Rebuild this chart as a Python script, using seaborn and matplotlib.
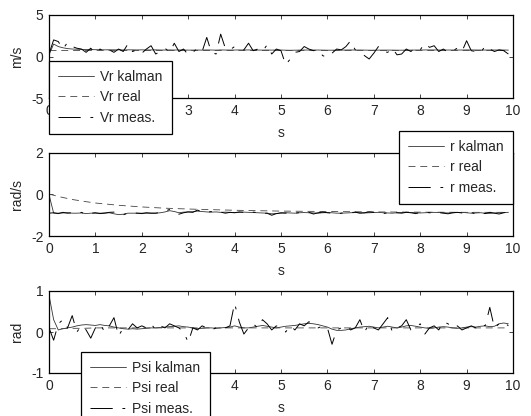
import numpy as np
import matplotlib
matplotlib.use("Agg")
import matplotlib.pyplot as plt
import seaborn as sns

# sample times (0.1 s step) and coarse times for the smooth "real" curves
t = np.arange(100) * 0.1
t_real = [0.0, 0.25, 0.5, 0.75, 1.0, 1.5, 2.0, 2.5, 3.0, 3.5, 4.0, 5.0, 6.0, 7.0, 8.0, 9.0, 9.9]

# --- Vr (m/s) ---
vr_kalman = [0.2, 1.5, 1.2, 1.05, 0.95, 0.9, 0.88, 0.85, 0.84, 0.83,
             0.82, 0.82, 0.8, 0.81, 0.8, 0.8, 0.79, 0.8, 0.8, 0.79,
             0.8, 0.79, 0.79, 0.8, 0.78, 0.78, 0.79, 0.78, 0.79, 0.78,
             0.77, 0.77, 0.78, 0.77, 0.79, 0.78, 0.77, 0.79, 0.78, 0.78,
             0.78, 0.79, 0.78, 0.79, 0.78, 0.78, 0.77, 0.78, 0.77, 0.78,
             0.78, 0.76, 0.75, 0.76, 0.77, 0.78, 0.78, 0.78, 0.78, 0.77,
             0.76, 0.76, 0.77, 0.77, 0.78, 0.79, 0.78, 0.78, 0.77, 0.76,
             0.76, 0.77, 0.77, 0.77, 0.77, 0.76, 0.76, 0.77, 0.77, 0.78,
             0.78, 0.79, 0.79, 0.79, 0.78, 0.78, 0.78, 0.78, 0.78, 0.78,
             0.79, 0.79, 0.78, 0.78, 0.78, 0.78, 0.78, 0.78, 0.78, 0.77]
vr_real = [0.78, 0.78, 0.78, 0.78, 0.78, 0.78, 0.78, 0.78, 0.78, 0.78,
           0.78, 0.78, 0.78, 0.78, 0.78, 0.78, 0.78]
vr_meas = [0.3, 2.0, 1.8, 0.9, 1.7, 1.2, 1.0, 0.9, 0.5, 1.0,
           0.4, 0.9, 0.6, 0.8, 0.5, 0.9, 0.6, 1.5, 0.6, 0.8,
           0.4, 0.9, 1.3, 0.3, 0.6, 1.0, 0.5, 1.6, 0.6, 0.9,
           0.2, 0.5, 1.0, 0.6, 2.3, 0.5, 0.3, 2.7, 1.0, 0.8,
           1.2, 0.9, 0.8, 1.6, 0.7, 0.9, 0.6, 1.4, 0.3, 0.9,
           0.7, -1.0, -0.3, 0.5, 0.6, 1.2, 0.9, 0.7, 0.8, 0.1,
           -0.1, 0.4, 0.9, 0.8, 1.2, 1.9, 0.8, 0.5, 0.1, -0.3,
           0.4, 1.2, 0.6, 0.5, 1.0, 0.2, 0.3, 0.9, 0.6, 1.1,
           0.8, 1.6, 1.1, 1.3, 0.6, 0.9, 0.5, 0.7, 1.0, 0.6,
           1.9, 0.7, 0.6, 0.4, 1.3, 0.9, 0.6, 0.8, 0.7, 0.3]

# --- r (rad/s) ---
r_kalman = [0.0, -0.9, -0.9, -0.89, -0.88, -0.9, -0.9, -0.89, -0.92, -0.9,
            -0.9, -0.9, -0.89, -0.88, -0.93, -0.97, -0.95, -0.9, -0.9, -0.9,
            -0.9, -0.9, -0.9, -0.9, -0.88, -0.84, -0.78, -0.82, -0.88, -0.85,
            -0.84, -0.83, -0.8, -0.82, -0.84, -0.85, -0.84, -0.86, -0.85, -0.86,
            -0.87, -0.86, -0.85, -0.86, -0.87, -0.88, -0.89, -0.9, -0.93, -0.92,
            -0.9, -0.88, -0.89, -0.9, -0.88, -0.87, -0.88, -0.89, -0.9, -0.88,
            -0.87, -0.88, -0.9, -0.9, -0.89, -0.88, -0.87, -0.88, -0.89, -0.88,
            -0.87, -0.86, -0.88, -0.89, -0.9, -0.88, -0.87, -0.86, -0.87, -0.88,
            -0.89, -0.88, -0.87, -0.86, -0.87, -0.88, -0.89, -0.88, -0.87, -0.86,
            -0.88, -0.9, -0.89, -0.88, -0.9, -0.91, -0.89, -0.88, -0.87, -0.86]
r_real = [0.02, -0.12, -0.24, -0.33, -0.41, -0.52, -0.6, -0.66, -0.7, -0.73,
          -0.76, -0.8, -0.82, -0.84, -0.85, -0.86, -0.86]
r_meas = [-0.9, -0.88, -0.92, -0.86, -0.9, -0.88, -0.91, -0.86, -0.96, -0.9,
          -0.88, -0.92, -0.9, -0.86, -0.85, -0.95, -0.98, -0.9, -0.88, -0.9,
          -0.92, -0.88, -0.9, -0.9, -0.86, -0.8, -0.72, -0.85, -0.95, -0.88,
          -0.84, -0.86, -0.75, -0.84, -0.86, -0.82, -0.88, -0.85, -0.9, -0.86,
          -0.88, -0.84, -0.86, -0.9, -0.85, -0.88, -0.92, -0.9, -1.0, -0.92,
          -0.88, -0.9, -0.86, -0.9, -0.87, -0.85, -0.86, -0.94, -0.88, -0.85,
          -0.88, -0.9, -0.94, -0.9, -0.86, -0.88, -0.85, -0.9, -0.88, -0.84,
          -0.86, -0.9, -0.92, -0.88, -0.85, -0.88, -0.9, -0.86, -0.88, -0.92,
          -0.87, -0.85, -0.88, -0.9, -0.87, -0.9, -0.93, -0.88, -0.86, -0.89,
          -0.9, -0.86, -0.95, -0.88, -0.92, -0.86, -0.9, -0.94, -0.88, -0.84]

# --- Psi (rad) ---
psi_kalman = [0.9, 0.3, 0.05, 0.08, 0.1, 0.12, 0.15, 0.17, 0.18, 0.17,
              0.16, 0.18, 0.16, 0.15, 0.12, 0.1, 0.08, 0.07, 0.08, 0.07,
              0.08, 0.09, 0.1, 0.1, 0.11, 0.12, 0.13, 0.14, 0.15, 0.13,
              0.12, 0.1, 0.08, 0.09, 0.1, 0.1, 0.09, 0.1, 0.11, 0.12,
              0.15, 0.12, 0.1, 0.1, 0.12, 0.14, 0.16, 0.14, 0.12, 0.1,
              0.12, 0.14, 0.15, 0.16, 0.18, 0.2, 0.21, 0.2, 0.18, 0.15,
              0.12, 0.07, 0.04, 0.04, 0.05, 0.08, 0.1, 0.12, 0.13, 0.14,
              0.12, 0.1, 0.12, 0.14, 0.12, 0.1, 0.12, 0.15, 0.16, 0.14,
              0.12, 0.1, 0.09, 0.1, 0.12, 0.13, 0.12, 0.1, 0.09, 0.1,
              0.12, 0.13, 0.12, 0.14, 0.15, 0.13, 0.14, 0.2, 0.22, 0.2]
psi_real = [0.08, 0.08, 0.09, 0.09, 0.1, 0.1, 0.1, 0.1, 0.1, 0.1,
            0.1, 0.1, 0.1, 0.1, 0.1, 0.1, 0.1]
psi_meas = [0.1, -0.2, 0.2, 0.3, 0.1, 0.4, 0.0, 0.15, 0.05, -0.15,
            0.1, 0.2, 0.0, 0.15, 0.35, -0.1, 0.1, 0.05, 0.2, 0.1,
            0.15, 0.1, 0.2, 0.05, 0.15, 0.1, 0.2, 0.15, 0.1, 0.0,
            -0.25, 0.1, 0.05, 0.15, 0.1, 0.05, 0.1, 0.15, 0.1, 0.15,
            0.7, 0.25, -0.05, 0.1, 0.2, 0.1, 0.3, 0.2, 0.05, 0.15,
            0.1, 0.0, 0.15, 0.05, 0.2, 0.15, 0.25, 0.2, 0.1, 0.15,
            0.1, -0.3, 0.05, 0.1, 0.15, 0.05, 0.1, 0.3, 0.0, 0.2,
            0.1, 0.05, 0.2, 0.35, 0.0, 0.1, 0.15, 0.3, 0.05, 0.1,
            0.2, -0.05, 0.1, 0.15, 0.05, 0.25, 0.2, 0.1, 0.15, 0.05,
            0.1, 0.15, 0.1, 0.2, 0.15, 0.6, 0.1, 0.2, 0.25, 0.15]

names = ["Vr", "r", "Psi"]
ylabels = ["m/s", "rad/s", "rad"]
ylims = [(-5, 5), (-2, 2), (-1, 1)]
yticks = [[-5, 0, 5], [-2, 0, 2], [-1, 0, 1]]

sns.set_style("ticks")
plt.rcParams["font.family"] = ["Liberation Sans", "DejaVu Sans"]
plt.rcParams["axes.unicode_minus"] = False
plt.rcParams["lines.scale_dashes"] = False

W, H = 531, 416
fig = plt.figure(figsize=(W / 100, H / 100), dpi=100)

# axes boxes in pixels: (top, bottom)
boxes = [(15, 98), (153, 236), (291, 373)]
# legend anchors (x, y, loc)
leg_pos = [(49, 61, "upper left"), (513, 131, "upper right"), (81, 352, "upper left")]

meas_style = (0, (16, 7, 2, 7))
series = [(vr_kalman, vr_real, vr_meas), (r_kalman, r_real, r_meas),
          (psi_kalman, psi_real, psi_meas)]

fs = 10
for i, (top, bot) in enumerate(boxes):
    ax = fig.add_axes([49 / W, 1 - bot / H, 464 / W, (bot - top) / H])
    kal, real, meas = series[i]
    sns.lineplot(x=t, y=kal, ax=ax, color="#333333", lw=0.6,
                 label=names[i] + " kalman")
    sns.lineplot(x=t_real, y=real, ax=ax, color="#444444", lw=0.6,
                 linestyle=(0, (5, 3.5)), label=names[i] + " real")
    sns.lineplot(x=t, y=meas, ax=ax, color="black", lw=0.7,
                 linestyle=meas_style, label=names[i] + " meas.")
    ax.set_xlim(0, 10)
    ax.set_ylim(*ylims[i])
    ax.set_xticks(range(11))
    ax.set_yticks(yticks[i])
    ax.tick_params(direction="in", top=True, right=True, length=3,
                   width=0.6, labelsize=fs, pad=4)
    for s in ax.spines.values():
        s.set_linewidth(0.9)
        s.set_color("black")
    ax.set_xlabel("s", fontsize=fs, labelpad=6)
    ax.set_ylabel(ylabels[i], fontsize=fs, labelpad=5)

    lx, ly, loc = leg_pos[i]
    leg = ax.legend(loc=loc, bbox_to_anchor=(lx / W, 1 - ly / H),
                    bbox_transform=fig.transFigure, fontsize=fs,
                    frameon=True, fancybox=False, framealpha=1,
                    edgecolor="black", handlelength=2.6, handletextpad=0.45,
                    labelspacing=0.45, borderpad=0.65, borderaxespad=0)
    leg.get_frame().set_linewidth(0.9)

fig.savefig("out.png", dpi=100)
